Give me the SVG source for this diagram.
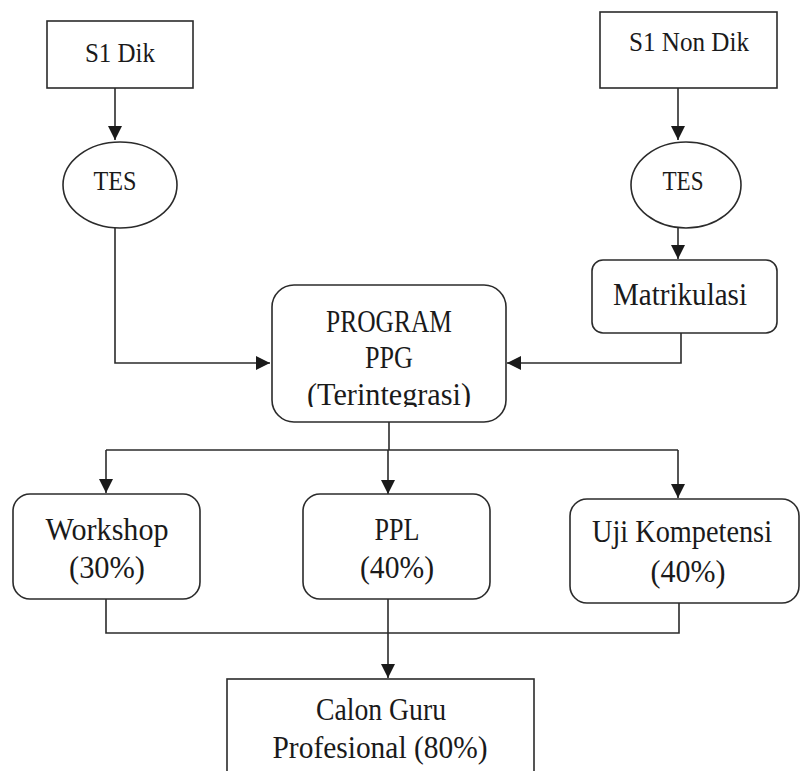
<svg xmlns="http://www.w3.org/2000/svg" width="801" height="771" viewBox="0 0 801 771">
<style>
.box{fill:#fff;stroke:#2b2b2b;stroke-width:1.6}
.t{font-family:"Liberation Serif","DejaVu Serif",serif;fill:#1a1a1a;text-anchor:middle}
.s{font-size:28px}
.m{font-size:32px}
.c{fill:none;stroke:#2b2b2b;stroke-width:1.6}
</style>
<defs>
<marker id="ah" markerUnits="userSpaceOnUse" markerWidth="14" markerHeight="16" refX="14" refY="7" orient="auto">
<path d="M0,0 L14,7 L0,14 Z" fill="#1a1a1a"/>
</marker>
<clipPath id="clipT"><rect x="272" y="285" width="234" height="122"/></clipPath>
</defs>
<rect width="801" height="771" fill="#fff"/>
<g id="connectors">
<path class="c" d="M115,88 V140" marker-end="url(#ah)"/>
<path class="c" d="M115,228 V363 H270" marker-end="url(#ah)"/>
<path class="c" d="M678,88 V140" marker-end="url(#ah)"/>
<path class="c" d="M678,228 V259" marker-end="url(#ah)"/>
<path class="c" d="M681,333 V363 H507" marker-end="url(#ah)"/>
<path class="c" d="M389,422 V450"/>
<path class="c" d="M106,450 H678"/>
<path class="c" d="M106,450 V493" marker-end="url(#ah)"/>
<path class="c" d="M388,450 V494" marker-end="url(#ah)"/>
<path class="c" d="M678,450 V498" marker-end="url(#ah)"/>
<path class="c" d="M106,599 V633 H679 V603"/>
<path class="c" d="M388,599 V678" marker-end="url(#ah)"/>
</g>
<g id="s1dik">
<rect class="box" x="47" y="21" width="146" height="67"/>
<text class="t s" x="120" y="62" textLength="70" lengthAdjust="spacingAndGlyphs">S1 Dik</text>
</g>
<g id="tes1">
<ellipse class="box" cx="120" cy="185" rx="57" ry="43"/>
<text class="t s" x="115" y="190" textLength="43" lengthAdjust="spacingAndGlyphs">TES</text>
</g>
<g id="s1nondik">
<rect class="box" x="600" y="12" width="177" height="76"/>
<text class="t s" x="689" y="51" textLength="120" lengthAdjust="spacingAndGlyphs">S1 Non Dik</text>
</g>
<g id="tes2">
<ellipse class="box" cx="686" cy="185" rx="55" ry="43"/>
<text class="t s" x="683" y="190" textLength="41" lengthAdjust="spacingAndGlyphs">TES</text>
</g>
<g id="matrikulasi">
<rect class="box" x="592" y="260" width="185" height="73" rx="11"/>
<text class="t m" x="680" y="305" textLength="134" lengthAdjust="spacingAndGlyphs">Matrikulasi</text>
</g>
<g id="program">
<rect class="box" x="272" y="285" width="234" height="137" rx="22"/>
<text class="t m" x="389" y="332" textLength="126" lengthAdjust="spacingAndGlyphs">PROGRAM</text>
<text class="t m" x="389" y="368" textLength="48" lengthAdjust="spacingAndGlyphs">PPG</text>
<text class="t m" x="389" y="405" textLength="164" lengthAdjust="spacingAndGlyphs" clip-path="url(#clipT)">(Terintegrasi)</text>
</g>
<g id="workshop">
<rect class="box" x="13" y="494" width="187" height="105" rx="17"/>
<text class="t m" x="107" y="540" textLength="123" lengthAdjust="spacingAndGlyphs">Workshop</text>
<text class="t m" x="107" y="578" textLength="76" lengthAdjust="spacingAndGlyphs">(30%)</text>
</g>
<g id="ppl">
<rect class="box" x="303" y="494" width="187" height="105" rx="17"/>
<text class="t m" x="397" y="540" textLength="45" lengthAdjust="spacingAndGlyphs">PPL</text>
<text class="t m" x="397" y="578" textLength="74" lengthAdjust="spacingAndGlyphs">(40%)</text>
</g>
<g id="ujikompetensi">
<rect class="box" x="570" y="499" width="229" height="104" rx="17"/>
<text class="t m" x="682" y="542" textLength="180" lengthAdjust="spacingAndGlyphs">Uji Kompetensi</text>
<text class="t m" x="688" y="582" textLength="75" lengthAdjust="spacingAndGlyphs">(40%)</text>
</g>
<g id="calonguru">
<rect class="box" x="227" y="679" width="307" height="120"/>
<text class="t m" x="381" y="720" textLength="130" lengthAdjust="spacingAndGlyphs">Calon Guru</text>
<text class="t m" x="380" y="758" textLength="215" lengthAdjust="spacingAndGlyphs">Profesional (80%)</text>
</g>
</svg>
